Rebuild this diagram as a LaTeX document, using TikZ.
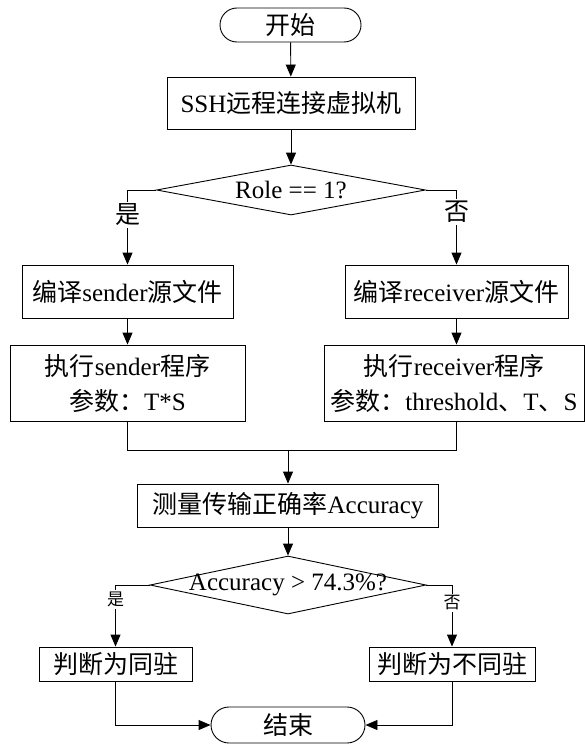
\documentclass[tikz,border=0pt]{standalone}
\usepackage{fontspec}
\setmainfont{Liberation Serif}
\newfontfamily\cjk{Noto Sans CJK SC}
\usetikzlibrary{arrows.meta,shapes.geometric}
\newcommand\zh[1]{{\cjk #1}}

\begin{document}
\begin{tikzpicture}[x=1pt,y=-1pt,
  every node/.style={font=\fontsize{25}{35}\selectfont, inner sep=0pt},
  box/.style={draw, rectangle, line width=0.9pt, align=center},
  term/.style={draw, rectangle, rounded corners=17pt, line width=0.9pt},
  decision/.style={draw, diamond, line width=0.9pt},
  flow/.style={line width=0.9pt, -{Triangle[length=12pt,width=10pt]}},
  link/.style={line width=0.9pt},
  lab/.style={fill=white, inner sep=2pt},
  smalllab/.style={fill=white, inner sep=2pt, font=\fontsize{17}{20}\selectfont}]

\useasboundingbox (0,0) rectangle (585,744);

% terminals, process boxes and decisions
\node[term, minimum width=141pt, minimum height=34pt] (start) at (290.5,25) {\zh{开始}};
\node[box, minimum width=248pt, minimum height=52pt] (ssh) at (291,103) {SSH\zh{远程连接虚拟机}};

\node[decision, minimum width=269pt, minimum height=50pt] (d1) at (291,190) {};
\node (d1t) at (d1.center) {Role == 1?};

\node[box, minimum width=211pt, minimum height=53pt] (cmpL) at (127.5,291.5) {\zh{编译}sender\zh{源文件}};
\node[box, minimum width=223pt, minimum height=53pt] (cmpR) at (456.5,291.5) {\zh{编译}receiver\zh{源文件}};

\node[box, minimum width=235pt, minimum height=76pt] (exeL) at (127.5,383) {\zh{执行}sender\zh{程序}\\\zh{参数：}T*S};
\node[box, minimum width=260pt, minimum height=76pt] (exeR) at (454,383) {\zh{执行}receiver\zh{程序}\\\zh{参数：}threshold\zh{、}T\zh{、}S};

\coordinate (merge) at (288,450);

\node[box, minimum width=301pt, minimum height=43pt] (meas) at (288,505.5) {\zh{测量传输正确率}Accuracy};

\node[decision, minimum width=276pt, minimum height=58pt] (d2) at (288,585) {};
\node (d2t) at (d2.center) {Accuracy > 74.3\%?};

\node[box, minimum width=153pt, minimum height=34pt] (judL) at (115.5,664) {\zh{判断为同驻}};
\node[box, minimum width=166pt, minimum height=34pt] (judR) at (452,664) {\zh{判断为不同驻}};

\node[term, rounded corners=18pt, minimum width=154pt, minimum height=36pt] (end) at (288,725) {\zh{结束}};

% connectors
\draw[flow] (start) -- (ssh);
\draw[flow] (ssh) -- (d1);
\draw[flow] (d1.west) -| node[lab, pos=0.667] (yes1) {\zh{是}} (cmpL.north);
\draw[flow] (d1.east) -| node[lab, pos=0.647] (no1) {\zh{否}} (cmpR.north);
\draw[flow] (cmpL) -- (exeL);
\draw[flow] (cmpR.south) -- (cmpR.south |- exeR.north);
\draw[link] (exeL.south) |- (merge);
\draw[link] (exeR.south -| cmpR.south) |- (merge);
\draw[flow] (merge) -- (merge |- meas.north);
\draw[flow] (meas.south) -- (meas.south |- d2.north);
\draw[flow] (d2.west) -| node[smalllab, pos=0.62] (yes2) {\zh{是}} (judL.north);
\draw[flow] (d2.east) -| node[smalllab, pos=0.645] (no2) {\zh{否}} (judR.north);
\draw[flow] (judL.south) |- (end.west);
\draw[flow] (judR.south) |- (end.east);
\end{tikzpicture}
\end{document}
